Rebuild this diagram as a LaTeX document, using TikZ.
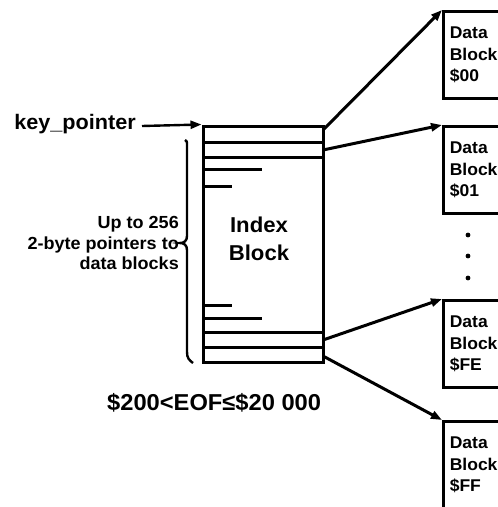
\documentclass[tikz,border=0pt]{standalone}
\usepackage{fontspec}
\setmainfont[FakeStretch=1.03]{Liberation Sans}
\usetikzlibrary{arrows.meta}

\tikzset{
  ptr/.style={line width=3pt, -{Triangle[length=11pt,width=8pt]}},
  blockbox/.style={draw, line width=2.6pt, anchor=north west,
    minimum width=90pt, minimum height=87pt, text width=80pt,
    align=left, inner xsep=6.5pt,
    font=\bfseries\fontsize{17}{21.5}\selectfont},
  rowline/.style={line width=3pt},
}

\begin{document}
\begin{tikzpicture}[x=1pt,y=-1pt]
  \clip (0,0) rectangle (498,507);
  \fill[white] (0,0) rectangle (498,507);

  % index block and its slot lines
  \node[draw, line width=3pt, minimum width=120pt, minimum height=236pt,
        inner sep=0pt] (idx) at (263,244) {};
  \node[font=\bfseries\fontsize{21.5}{28}\selectfont, align=center] (idxlbl) at (259,239) {Index\\Block};
  \foreach \yy in {142,157,332,347}
    \draw[rowline] (203,\yy) -- (323,\yy);
  \foreach \yy/\xx in {169/262,186/232,305/232,318/262}
    \draw[rowline] (203,\yy) -- (\xx,\yy);

  % entry pointer
  \node[font=\bfseries\fontsize{21}{24}\selectfont, anchor=east, inner sep=0pt] (key) at (136,124) {key\_pointer};
  \coordinate (keyend) at (142,126);
  \draw[line width=2.4pt, -{Triangle[length=11pt,width=8pt]}] (keyend) -- (idx.north west);

  % brace over the pointer slots
  \draw[line width=2.4pt]
    (185,140) .. controls (187,141) .. (187,146) -- (187,236)
    .. controls (187,241) and (184,243) .. (180,243)
    .. controls (184,243) and (187,245) .. (187,250) -- (187,352)
    .. controls (187,358) and (189,360) .. (193,363);
  \node[font=\bfseries\fontsize{17.5}{20.5}\selectfont, align=right, anchor=east, inner sep=0pt]
    (cnt) at (179,243) {Up to 256\\2-byte pointers to\\data blocks};

  % size range
  \node[font=\bfseries\fontsize{23}{24}\selectfont, anchor=west, inner sep=0pt] (eof) at (107,403) {\$200<EOF≤\$20 000};

  % data blocks
  \node[blockbox] (d0) at (442,10) {Data\\Block\\\$00};
  \node[blockbox] (d1) at (442,125) {Data\\Block\\\$01};
  \node[blockbox] (dfe) at (442,299) {Data\\Block\\\$FE};
  \node[blockbox] (dff) at (442,420) {Data\\Block\\\$FF};

  % ellipsis between blocks
  \foreach \yy in {235,256,278}
    \fill (468,\yy) circle (2.4pt);

  % slot pointers
  \coordinate (s0) at (323,130);
  \coordinate (s1) at (323,150);
  \coordinate (s2) at (323,340);
  \coordinate (s3) at (323,356);
  \draw[ptr] (s0) -- (d0.north west);
  \draw[ptr] (s1) -- (d1.north west);
  \draw[ptr] (s2) -- (dfe.north west);
  \draw[ptr] (s3) -- (dff.north west);
\end{tikzpicture}
\end{document}
